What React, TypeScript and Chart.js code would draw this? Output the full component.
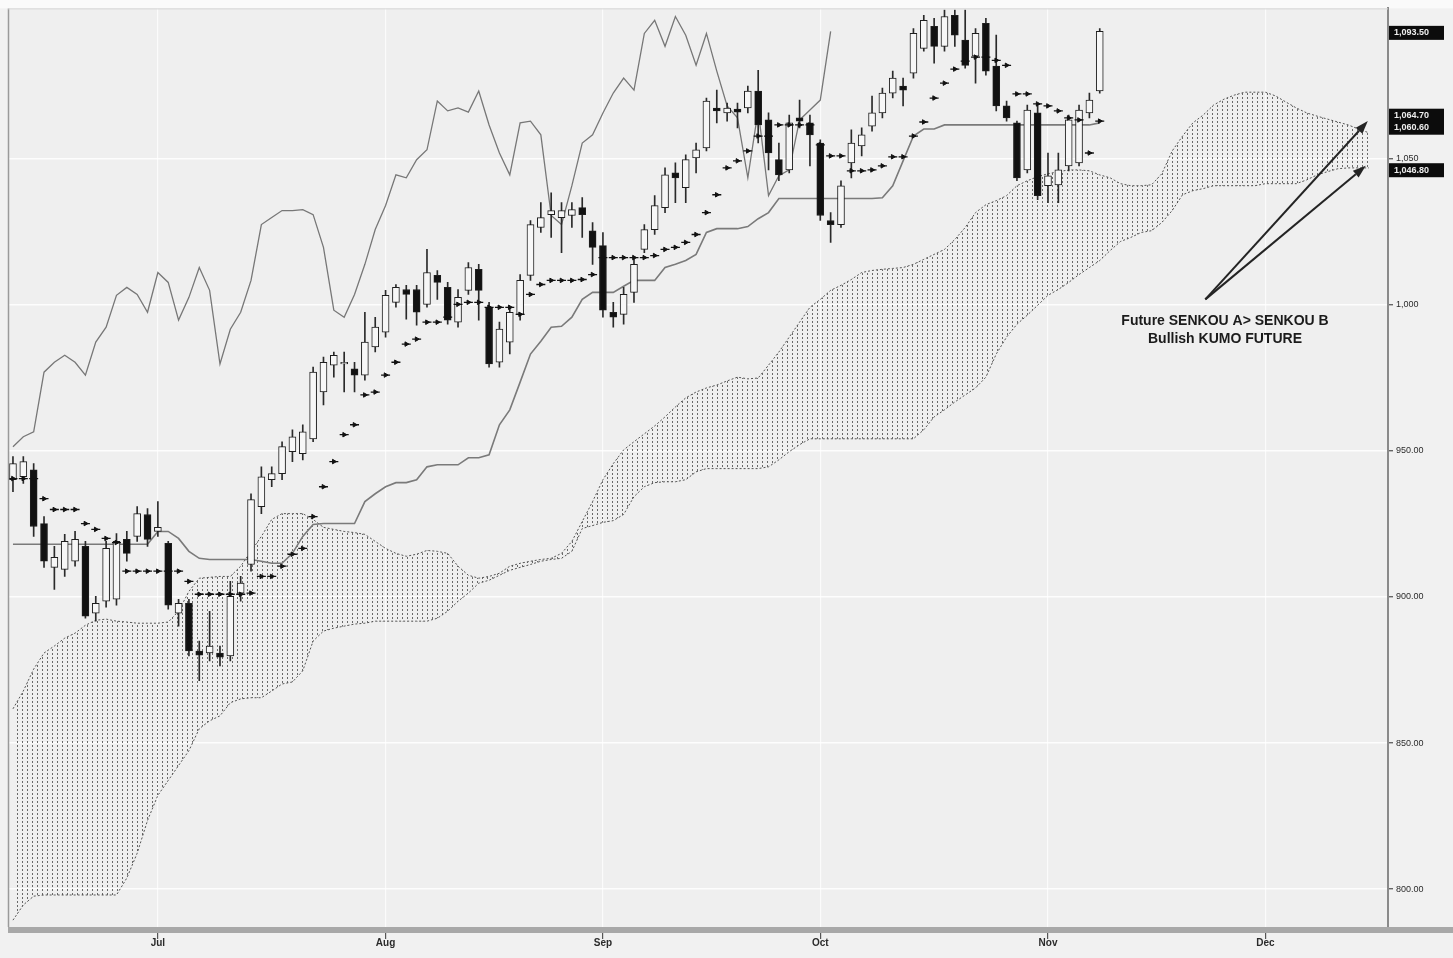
import React, { useEffect, useRef } from 'react';
import { Chart, registerables } from 'chart.js';

Chart.register(...registerables);

// ---- daily candles (index 0 = first visible session) ----
const opens = [
  940.1, 941.1, 943.5, 925.1, 910.1, 909.4, 912.2, 917.3, 894.4, 898.5,
  899.2, 919.7, 920.7, 928.2, 922.4, 918.3, 894.4, 897.8, 881.5, 880.8,
  880.8, 879.8, 901.3, 911.1, 930.9, 940.1, 942.2, 949.7, 949.0, 954.1,
  970.1, 979.3, 979.7, 978.0, 975.9, 985.5, 990.6, 1000.8, 1005.2, 1005.2,
  1000.1, 1010.0, 1005.9, 994.0, 1004.9, 1012.1, 999.1, 980.3, 987.2, 996.7,
  1010.0, 1026.4, 1030.8, 1029.8, 1030.5, 1033.2, 1025.3, 1020.2, 997.4, 996.7,
  1004.2, 1018.9, 1025.7, 1033.2, 1045.1, 1040.0, 1050.2, 1053.6, 1067.3, 1065.6,
  1066.9, 1067.3, 1073.1, 1063.2, 1049.6, 1046.1, 1063.9, 1062.2, 1055.3, 1028.8,
  1027.4, 1048.5, 1054.3, 1061.1, 1065.6, 1072.4, 1074.8, 1079.2, 1087.7, 1095.2,
  1088.4, 1099.0, 1090.5, 1085.0, 1096.3, 1081.6, 1068.0, 1062.2, 1046.1, 1065.6,
  1040.7, 1041.0, 1047.5, 1048.5, 1065.6, 1073.1,
];
const highs = [
  948.0, 948.0, 945.6, 927.5, 917.3, 921.4, 922.4, 919.0, 900.2, 919.0,
  921.7, 922.4, 930.9, 930.2, 932.6, 919.0, 899.2, 899.2, 884.9, 895.1,
  883.2, 905.3, 907.0, 935.3, 944.5, 944.5, 953.1, 957.2, 958.9, 978.6,
  982.1, 983.8, 983.8, 980.3, 997.4, 995.7, 1004.9, 1006.9, 1006.6, 1006.6,
  1018.9, 1011.7, 1007.6, 1005.2, 1014.4, 1013.8, 1000.8, 994.0, 999.1, 1010.3,
  1028.8, 1034.9, 1038.3, 1034.9, 1034.9, 1036.6, 1028.1, 1024.7, 1000.8, 1005.9,
  1016.1, 1027.4, 1037.3, 1046.8, 1048.5, 1051.3, 1055.3, 1070.7, 1073.4, 1069.0,
  1069.0, 1074.8, 1080.2, 1065.6, 1055.3, 1064.9, 1070.0, 1064.9, 1056.4, 1031.5,
  1042.4, 1059.8, 1060.5, 1071.4, 1074.1, 1079.9, 1077.5, 1094.5, 1099.0, 1098.0,
  1100.8, 1100.8, 1100.8, 1094.5, 1098.0, 1092.2, 1069.7, 1062.8, 1068.3, 1068.0,
  1051.9, 1051.9, 1064.9, 1068.3, 1072.4, 1094.5,
];
const lows = [
  936.0, 938.8, 920.7, 910.1, 902.6, 907.0, 910.5, 892.7, 891.7, 896.5,
  897.2, 912.2, 919.0, 917.3, 920.7, 895.8, 890.0, 879.8, 871.3, 878.1,
  876.4, 878.1, 898.5, 908.8, 928.5, 937.7, 940.1, 946.3, 946.9, 953.1,
  965.7, 975.2, 970.1, 970.1, 974.2, 983.8, 988.9, 999.1, 995.0, 993.0,
  999.1, 1001.8, 993.3, 992.3, 1003.5, 994.7, 978.6, 978.6, 983.1, 994.7,
  1008.3, 1024.7, 1023.0, 1017.8, 1026.4, 1023.0, 1013.8, 995.7, 992.3, 993.3,
  1000.8, 1017.8, 1024.0, 1031.5, 1034.9, 1034.9, 1045.1, 1052.6, 1062.2, 1062.8,
  1060.5, 1065.6, 1055.3, 1046.1, 1042.4, 1045.1, 1060.5, 1047.5, 1028.8, 1021.3,
  1026.4, 1043.4, 1050.9, 1059.4, 1063.9, 1070.7, 1068.0, 1077.5, 1086.7, 1082.6,
  1086.7, 1088.4, 1080.9, 1075.8, 1078.5, 1066.3, 1062.8, 1042.4, 1045.1, 1035.9,
  1034.9, 1034.9, 1045.8, 1047.5, 1063.9, 1072.4,
];
const closes = [
  945.6, 946.3, 924.1, 912.2, 913.5, 919.0, 919.7, 893.4, 897.8, 916.6,
  919.0, 914.9, 928.5, 919.7, 923.8, 897.2, 897.8, 881.5, 880.1, 883.2,
  879.4, 900.2, 904.7, 933.3, 941.1, 942.2, 951.4, 954.8, 956.5, 976.9,
  980.3, 982.7, 980.3, 975.9, 987.2, 992.3, 1003.2, 1005.9, 1003.5, 997.4,
  1011.0, 1007.6, 994.7, 1002.5, 1012.7, 1004.9, 979.7, 991.6, 997.4, 1008.3,
  1027.4, 1029.8, 1032.2, 1032.2, 1032.5, 1030.8, 1019.6, 998.1, 995.7, 1003.5,
  1013.8, 1025.7, 1033.9, 1044.4, 1043.4, 1049.6, 1053.0, 1069.7, 1066.3, 1067.3,
  1065.9, 1073.1, 1061.5, 1051.9, 1044.4, 1062.2, 1062.8, 1058.1, 1030.5, 1027.4,
  1040.7, 1055.3, 1058.1, 1065.6, 1072.4, 1077.5, 1073.4, 1092.8, 1097.3, 1088.4,
  1098.6, 1092.2, 1081.9, 1092.8, 1079.9, 1068.0, 1063.9, 1043.4, 1066.6, 1037.3,
  1044.1, 1046.1, 1063.2, 1066.6, 1070.0, 1093.5,
];

// ---- Ichimoku lines ----
const tenkan = [
  940.5, 940.5, 940.5, 933.6, 929.9, 929.9, 929.9, 925.1, 923.1, 920.0,
  918.6, 908.8, 908.8, 908.8, 908.8, 908.8, 908.8, 905.3, 900.9, 900.9,
  900.9, 900.9, 900.9, 901.3, 907.0, 907.0, 910.5, 914.6, 916.6, 927.5,
  937.7, 946.3, 955.5, 958.9, 969.1, 970.1, 975.9, 980.3, 986.5, 988.2,
  994.0, 994.0, 995.7, 1000.1, 1000.8, 1000.8, 999.1, 999.1, 999.1, 996.7,
  1003.5, 1006.9, 1008.3, 1008.3, 1008.3, 1008.6, 1010.3, 1016.1, 1016.1, 1016.1,
  1016.1, 1016.1, 1016.8, 1018.9, 1019.6, 1021.3, 1024.0, 1031.5, 1037.6, 1046.8,
  1049.2, 1052.6, 1057.7, 1057.7, 1061.5, 1061.5, 1061.5, 1061.5, 1054.7, 1050.9,
  1050.9, 1045.8, 1045.8, 1046.1, 1047.5, 1050.6, 1050.6, 1057.7, 1062.5, 1070.7,
  1075.8, 1080.6, 1083.3, 1084.7, 1084.7, 1083.6, 1081.9, 1072.1, 1072.1, 1068.7,
  1068.0, 1066.3, 1063.9, 1063.2, 1051.9, 1062.8,
];
const kijun = [
  918.0, 918.0, 918.0, 918.0, 918.0, 918.0, 918.0, 918.0, 918.0, 918.0,
  918.0, 918.0, 918.0, 918.0, 922.4, 922.4, 920.0, 915.6, 913.2, 912.8,
  912.8, 912.8, 912.8, 912.8, 912.2, 911.5, 911.5, 914.9, 920.7, 924.8,
  925.1, 925.1, 925.1, 925.1, 932.6, 935.3, 937.7, 939.1, 939.1, 940.1,
  944.5, 945.2, 945.2, 945.2, 947.6, 947.6, 948.6, 958.9, 964.0, 973.5,
  983.1, 987.5, 992.3, 992.6, 995.7, 1001.8, 1004.2, 1004.2, 1004.2, 1006.3,
  1008.3, 1008.3, 1008.3, 1012.7, 1013.8, 1015.1, 1017.2, 1024.7, 1026.0, 1026.0,
  1026.0, 1026.7, 1029.4, 1031.5, 1036.3, 1036.3, 1036.3, 1036.3, 1036.3, 1036.3,
  1036.3, 1036.3, 1036.3, 1036.3, 1036.6, 1040.7, 1049.2, 1057.7, 1060.1, 1060.1,
  1061.5, 1061.5, 1061.5, 1061.5, 1061.5, 1061.5, 1061.5, 1061.5, 1061.5, 1061.5,
  1061.5, 1061.5, 1061.5, 1061.5, 1061.5, 1062.2,
];
// Chikou span (plotted from index 0, lagging 26 sessions)
const chikou = [
  951.4, 954.8, 956.5, 976.9, 980.3, 982.7, 980.3, 975.9, 987.2, 992.3,
  1003.2, 1005.9, 1003.5, 997.4, 1011.0, 1007.6, 994.7, 1002.5, 1012.7, 1004.9,
  979.7, 991.6, 997.4, 1008.3, 1027.4, 1029.8, 1032.2, 1032.2, 1032.5, 1030.8,
  1019.6, 998.1, 995.7, 1003.5, 1013.8, 1025.7, 1033.9, 1044.4, 1043.4, 1049.6,
  1053.0, 1069.7, 1066.3, 1067.3, 1065.9, 1073.1, 1061.5, 1051.9, 1044.4, 1062.2,
  1062.8, 1058.1, 1030.5, 1027.4, 1040.7, 1055.3, 1058.1, 1065.6, 1072.4, 1077.5,
  1073.4, 1092.8, 1097.3, 1088.4, 1098.6, 1092.2, 1081.9, 1092.8, 1079.9, 1068.0,
  1063.9, 1043.4, 1066.6, 1037.3, 1044.1, 1046.1, 1063.2, 1066.6, 1070.0, 1093.5,
];
// Senkou spans (kumo), extending 26 sessions into the future
const senkouA = [
  861.7, 867.8, 875.3, 880.8, 883.2, 885.9, 887.6, 890.3, 892.0, 892.4,
  891.7, 891.4, 891.0, 891.0, 891.0, 891.4, 895.1, 901.9, 906.4, 906.7,
  907.0, 907.0, 910.5, 915.6, 920.7, 926.5, 928.5, 928.5, 928.5, 926.5,
  923.8, 923.1, 922.4, 922.0, 921.4, 919.0, 916.6, 914.9, 913.9, 914.6,
  915.9, 915.6, 914.9, 910.5, 907.4, 906.4, 907.0, 908.1, 910.5, 911.5,
  912.2, 912.8, 913.2, 914.9, 919.0, 925.8, 932.6, 940.1, 945.6, 950.3,
  953.1, 955.8, 958.5, 961.6, 965.0, 968.1, 970.1, 971.5, 972.5, 973.9,
  975.2, 974.6, 974.9, 979.3, 983.8, 988.9, 994.0, 999.1, 1001.8, 1004.9,
  1006.6, 1008.6, 1011.0, 1011.7, 1012.1, 1012.4, 1012.7, 1013.8, 1015.5, 1017.2,
  1018.9, 1022.3, 1026.4, 1031.5, 1034.2, 1035.6, 1037.3, 1040.7, 1042.4, 1043.8,
  1044.8, 1045.5, 1046.1, 1046.1, 1045.8, 1044.4, 1043.4, 1041.4, 1040.7, 1040.7,
  1041.0, 1044.8, 1052.6, 1057.7, 1062.2, 1064.9, 1068.3, 1070.3, 1071.7, 1072.7,
  1072.7, 1072.7, 1071.4, 1069.3, 1067.3, 1065.6, 1064.5, 1063.5, 1062.5, 1061.5,
  1060.1, 1058.8,
];
const senkouB = [
  789.4, 794.6, 797.6, 798.0, 798.0, 798.0, 798.0, 798.0, 798.0, 798.0,
  798.0, 803.8, 812.3, 823.5, 832.1, 837.2, 842.3, 847.4, 854.9, 857.6,
  859.3, 863.8, 865.1, 865.5, 865.5, 867.8, 870.2, 870.9, 874.7, 884.9,
  888.3, 889.3, 890.0, 890.7, 891.0, 891.7, 891.7, 891.7, 891.7, 891.7,
  891.7, 892.7, 895.1, 898.5, 901.3, 904.7, 905.7, 907.4, 909.1, 910.1,
  911.1, 912.2, 912.8, 913.2, 915.6, 923.4, 924.4, 925.5, 926.1, 928.2,
  934.3, 937.7, 939.1, 939.4, 939.4, 940.1, 942.8, 943.9, 943.9, 943.9,
  943.9, 943.9, 943.9, 944.5, 946.9, 949.7, 952.1, 954.1, 954.1, 954.1,
  954.1, 954.1, 954.1, 954.1, 954.1, 954.1, 954.1, 954.1, 957.2, 961.6,
  964.0, 966.7, 969.1, 971.5, 975.2, 983.1, 988.9, 993.3, 996.4, 999.8,
  1003.2, 1005.2, 1007.6, 1010.3, 1012.7, 1015.1, 1018.5, 1021.6, 1023.0, 1024.7,
  1025.3, 1028.1, 1032.2, 1037.6, 1039.0, 1039.7, 1040.7, 1040.7, 1040.7, 1040.7,
  1040.7, 1041.4, 1041.4, 1041.4, 1041.4, 1042.7, 1044.4, 1045.5, 1046.5, 1046.8,
  1046.8, 1046.8,
];

// ---- axes ----
const monthTicks = [14, 36, 57, 78, 100, 121];
const monthLabels = ['Jul', 'Aug', 'Sep', 'Oct', 'Nov', 'Dec'];
const priceTicks = [800, 850, 900, 950, 1000, 1050];
const priceTickLabels = ['800.00', '850.00', '900.00', '950.00', '1,000', '1,050'];
const X_MIN = -0.48;
const X_MAX = 132.85;
const Y_MIN = 787.05;
const Y_MAX = 1101.37;

// ---- right-edge price tags ----
const priceTagValues = [1093.0, 1062.6, 1046.0];
const priceTagTexts = [['1,093.50'], ['1,064.70', '1,060.60'], ['1,046.80']];

// ---- annotation ----
const noteLines = ['Future SENKOU A> SENKOU B', 'Bullish KUMO FUTURE'];
const notePos = { x: 117.1, y: 994.3 };
const arrowStart = { x: 115.2, y: 1001.8 };
const arrowTips = [
  { x: 130.9, y: 1062.8 },
  { x: 130.7, y: 1047.5 },
];

function drawArrow(ctx: CanvasRenderingContext2D, x0: number, y0: number, x1: number, y1: number) {
  const ang = Math.atan2(y1 - y0, x1 - x0);
  const len = 13;
  const w = 4.5;
  const bx = x1 - len * Math.cos(ang);
  const by = y1 - len * Math.sin(ang);
  ctx.beginPath();
  ctx.moveTo(x0, y0);
  ctx.lineTo(bx, by);
  ctx.stroke();
  ctx.beginPath();
  ctx.moveTo(x1, y1);
  ctx.lineTo(bx + w * Math.sin(ang), by - w * Math.cos(ang));
  ctx.lineTo(bx - w * Math.sin(ang), by + w * Math.cos(ang));
  ctx.closePath();
  ctx.fill();
}

const FONT = '"Liberation Sans", Arial, Helvetica, sans-serif';

export default function App() {
  const ref = useRef<HTMLCanvasElement>(null);

  useEffect(() => {
    const canvas = ref.current as HTMLCanvasElement;
    const ctx0 = canvas.getContext('2d') as CanvasRenderingContext2D;

    const pc = document.createElement('canvas');
    pc.width = 5;
    pc.height = 4;
    const p = pc.getContext('2d') as CanvasRenderingContext2D;
    p.fillStyle = 'rgba(70,70,70,0.8)';
    p.fillRect(2, 1, 1, 2);
    const pattern = ctx0.createPattern(pc, 'repeat');

    const pts = (arr: number[]) => arr.map((v, i) => ({ x: i, y: v }));
    const bodies = opens.map((o, i) => ({ x: i, y: [o, closes[i]] }));
    const wicks = lows.map((l, i) => ({ x: i, y: [l, highs[i]] }));
    const bodyFill = opens.map((o, i) => (closes[i] < o ? '#111111' : '#f7f7f7'));

    const decor = {
      id: 'decor',
      beforeDraw(chart: any) {
        const { ctx, chartArea: a, width, height } = chart;
        ctx.save();
        ctx.fillStyle = '#f1f1f1';
        ctx.fillRect(0, 0, width, height);
        ctx.fillStyle = '#fafafa';
        ctx.fillRect(0, 0, width, a.top);
        ctx.fillStyle = '#efefef';
        ctx.fillRect(a.left, a.top, a.right - a.left, a.bottom - a.top);
        ctx.restore();
      },
      afterDatasetsDraw(chart: any) {
        const { ctx, scales } = chart;
        const x = scales.x;
        const y = scales.y;
        ctx.save();
        ctx.strokeStyle = '#242424';
        ctx.fillStyle = '#242424';
        ctx.lineWidth = 2;
        const sx = x.getPixelForValue(arrowStart.x);
        const sy = y.getPixelForValue(arrowStart.y);
        arrowTips.forEach((t) => drawArrow(ctx, sx, sy, x.getPixelForValue(t.x), y.getPixelForValue(t.y)));
        ctx.font = 'bold 14px ' + FONT;
        ctx.textAlign = 'center';
        ctx.textBaseline = 'middle';
        ctx.fillStyle = '#1b1b1b';
        const nx = x.getPixelForValue(notePos.x);
        const ny = y.getPixelForValue(notePos.y);
        noteLines.forEach((s, k) => ctx.fillText(s, nx, ny + k * 18));
        ctx.restore();
      },
      afterDraw(chart: any) {
        const { ctx, chartArea: a, width, scales } = chart;
        const y = scales.y;
        ctx.save();
        ctx.fillStyle = '#a8a8a8';
        ctx.fillRect(a.left, a.bottom, width - a.left, 6);
        ctx.strokeStyle = '#9a9a9a';
        ctx.lineWidth = 1.5;
        ctx.beginPath();
        ctx.moveTo(a.left + 0.5, a.top);
        ctx.lineTo(a.left + 0.5, a.bottom);
        ctx.stroke();
        ctx.strokeStyle = '#d6d6d6';
        ctx.lineWidth = 1;
        ctx.beginPath();
        ctx.moveTo(a.left, a.top + 0.5);
        ctx.lineTo(a.right, a.top + 0.5);
        ctx.stroke();
        ctx.font = 'bold 9px ' + FONT;
        ctx.textAlign = 'left';
        ctx.textBaseline = 'middle';
        priceTagValues.forEach((v, k) => {
          const rows = priceTagTexts[k];
          const cy = y.getPixelForValue(v);
          const h = 12 * rows.length + 2;
          ctx.fillStyle = '#0c0c0c';
          ctx.fillRect(a.right + 1, cy - h / 2, 55, h);
          ctx.fillStyle = '#eeeeee';
          rows.forEach((r, j) => ctx.fillText(r, a.right + 6, cy - h / 2 + 7 + j * 12));
        });
        ctx.restore();
      },
    };

    const chart = new Chart(canvas, {
      type: 'line',
      data: {
        datasets: [
          {
            type: 'line',
            label: 'Tenkan-sen',
            data: pts(tenkan),
            showLine: false,
            pointStyle: 'triangle',
            rotation: 90,
            pointRadius: 2.6,
            pointBackgroundColor: '#111',
            pointBorderColor: '#111',
            pointBorderWidth: 1,
            order: -2,
          },
          {
            type: 'line',
            label: 'Tenkan-sen dash',
            data: pts(tenkan),
            showLine: false,
            pointStyle: 'line',
            pointRadius: 4.5,
            pointBorderColor: '#111',
            pointBorderWidth: 1.3,
            order: -1,
          },
          {
            type: 'bar',
            label: 'Body',
            data: bodies,
            backgroundColor: bodyFill,
            borderColor: '#1e1e1e',
            borderWidth: 1,
            borderSkipped: false,
            barThickness: 7,
            maxBarThickness: 7,
            grouped: false,
            order: 0,
          },
          {
            type: 'bar',
            label: 'Wick',
            data: wicks,
            backgroundColor: '#2a2a2a',
            borderWidth: 0,
            barThickness: 1,
            maxBarThickness: 1,
            grouped: false,
            order: 1,
          },
          {
            type: 'line',
            label: 'Kijun-sen',
            data: pts(kijun),
            borderColor: '#7a7a7a',
            borderWidth: 1.6,
            pointRadius: 0,
            fill: false,
            order: 2,
          },
          {
            type: 'line',
            label: 'Chikou span',
            data: pts(chikou),
            borderColor: '#777777',
            borderWidth: 1.3,
            pointRadius: 0,
            fill: false,
            order: 3,
          },
          {
            type: 'line',
            label: 'Senkou A',
            data: pts(senkouA),
            borderColor: '#555555',
            borderWidth: 1,
            borderDash: [2, 2],
            pointRadius: 0,
            fill: '+1',
            backgroundColor: pattern,
            order: 5,
          },
          {
            type: 'line',
            label: 'Senkou B',
            data: pts(senkouB),
            borderColor: '#555555',
            borderWidth: 1,
            borderDash: [2, 2],
            pointRadius: 0,
            fill: false,
            order: 6,
          },
        ],
      },
      options: {
        responsive: false,
        animation: false,
        devicePixelRatio: 1,
        layout: { padding: { left: 8, top: 5, right: 0, bottom: 0 } },
        plugins: { legend: { display: false }, tooltip: { enabled: false } },
        scales: {
          x: {
            type: 'linear',
            min: X_MIN,
            max: X_MAX,
            offset: false,
            afterFit: (s: any) => {
              s.height = 31;
            },
            afterBuildTicks: (s: any) => {
              s.ticks = monthTicks.map((v) => ({ value: v }));
            },
            ticks: {
              autoSkip: false,
              maxRotation: 0,
              padding: -2,
              color: '#2b2b2b',
              font: { size: 10, weight: 'bold', family: FONT },
              callback: (v: any) => {
                const k = monthTicks.indexOf(v);
                return k >= 0 ? monthLabels[k] : '';
              },
            },
            grid: { offset: false, color: 'rgba(255,255,255,0.75)', lineWidth: 1.2, tickColor: '#555', tickLength: 12 },
            border: { display: false },
          },
          y: {
            type: 'linear',
            position: 'right',
            min: Y_MIN,
            max: Y_MAX,
            afterFit: (s: any) => {
              s.width = 65;
            },
            afterBuildTicks: (s: any) => {
              s.ticks = priceTicks.map((v) => ({ value: v }));
            },
            ticks: {
              padding: 3,
              color: '#2b2b2b',
              font: { size: 9, family: FONT },
              callback: (v: any) => {
                const k = priceTicks.indexOf(v);
                return k >= 0 ? priceTickLabels[k] : '';
              },
            },
            grid: { offset: false, color: 'rgba(255,255,255,0.85)', lineWidth: 1.4, tickColor: '#666', tickLength: 5 },
            border: { display: true, color: '#8a8a8a', width: 2 },
          },
        },
      } as any,
      plugins: [decor],
    } as any);

    return () => chart.destroy();
  }, []);

  return (
    <div style={{ position: 'fixed', left: 0, top: 0, width: 1453, height: 958, background: '#f1f1f1' }}>
      <canvas ref={ref} width={1453} height={958} style={{ width: 1453, height: 958, display: 'block' }} />
    </div>
  );
}
